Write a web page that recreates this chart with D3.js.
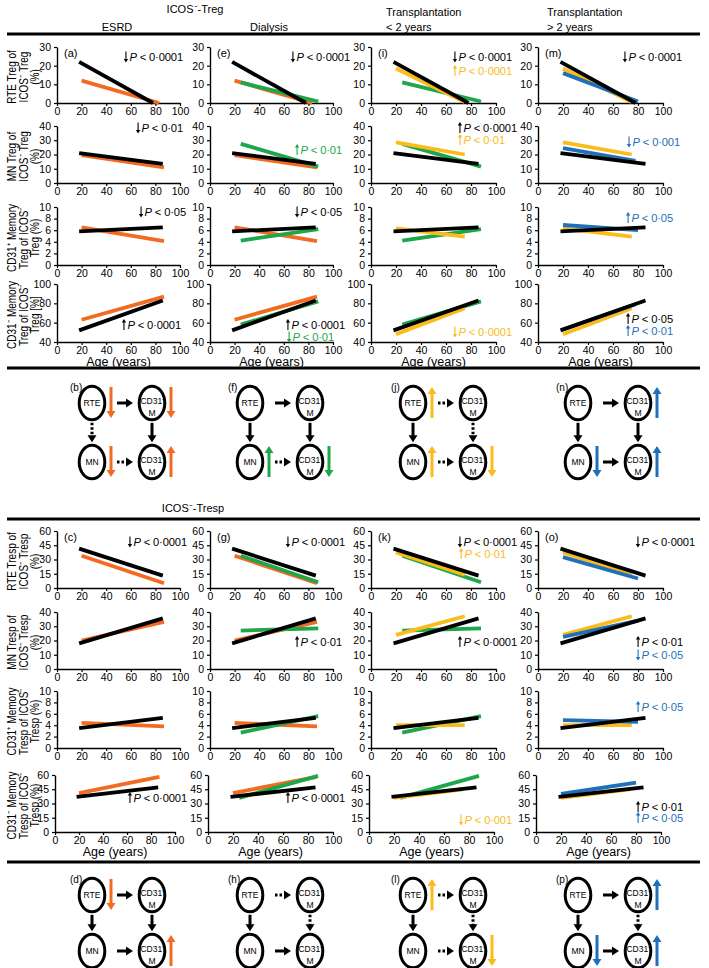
<!DOCTYPE html>
<html><head><meta charset="utf-8">
<script src="https://cdn.jsdelivr.net/npm/d3@7"></script>
<style>body{margin:0;background:#fff}svg{display:block;font-family:"Liberation Sans",Arial,sans-serif}</style>
</head><body><svg id="c" width="709" height="968"></svg>
<script>
// ---------------- DATA ----------------
const xTicks = [0, 20, 40, 60, 80, 100];
const groupKeys = ["ctrl", "esrd", "dial", "txe", "txl"];
const groupColors = {ctrl: "#000000", esrd: "#f26b21", dial: "#1ea64a", txe: "#fbbb1a", txl: "#1f70b8"};
const columnGroups = [["esrd"], ["esrd", "dial"], ["dial", "txe"], ["txe", "txl"]];
const columnHeaders = [["ESRD"], ["Dialysis"], ["Transplantation", "< 2 years"], ["Transplantation", "> 2 years"]];

// regression lines: [ageStart, valueStart, ageEnd, valueEnd]
const tregRTE  = {ctrl: [18, 22, 78, 0],   esrd: [20, 12, 83, 0],   dial: [25, 11, 88, 0.8], txe: [20, 18.5, 75, 0.5], txl: [20, 16, 80, 0.8]};
const tregMN   = {ctrl: [18, 21, 86, 13.5], esrd: [20, 19.5, 87, 11], dial: [25, 27.5, 88, 11.5], txe: [20, 28.5, 75, 20], txl: [20, 24.5, 78, 15.5]};
const tregCD31p = {ctrl: [18, 5.8, 86, 6.5], esrd: [20, 6.5, 87, 4.1], dial: [25, 4.2, 88, 6.2], txe: [20, 6.3, 75, 4.9], txl: [20, 6.9, 80, 6.0]};
const tregCD31n = {ctrl: [18, 52, 86, 83], esrd: [20, 63, 87, 87], dial: [25, 58, 88, 82], txe: [20, 48, 75, 75], txl: [20, 53, 78, 79]};
const trespRTE  = {ctrl: [18, 41.5, 86, 13], esrd: [20, 34, 87, 5], dial: [25, 34, 88, 6], txe: [20, 37.5, 75, 14], txl: [20, 32.5, 80, 10]};
const trespMN   = {ctrl: [18, 18, 86, 35.5], esrd: [20, 20, 87, 33], dial: [25, 27, 88, 28.5], txe: [20, 24, 75, 37], txl: [20, 22.5, 80, 34]};
const trespCD31p = {ctrl: [18, 3.5, 86, 5.3], esrd: [20, 4.4, 87, 3.8], dial: [25, 2.7, 88, 5.6], txe: [20, 4.0, 75, 4.0], txl: [20, 4.9, 80, 4.6]};
const trespCD31n = {ctrl: [18, 37, 86, 47], esrd: [20, 41, 87, 58], dial: [25, 36, 88, 59], txe: [20, 36, 75, 45], txl: [20, 40, 80, 52]};

const tregYTicks = [[0, 10, 20, 30], [0, 10, 20, 30, 40], [0, 2, 4, 6, 8, 10], [40, 60, 80, 100]];
const trespYTicks = [[0, 15, 30, 45, 60], [0, 10, 20, 30, 40], [0, 2, 4, 6, 8, 10], [0, 15, 30, 45, 60]];
const tregYLabels = [["RTE Treg of", "ICOS⁻ Treg", "(%)"], ["MN Treg of", "ICOS⁻ Treg", "(%)"],
  ["CD31⁺ Memory", "Treg of ICOS⁻", "Treg (%)"], ["CD31⁻ Memory", "Treg of ICOS⁻", "Treg [%]"]];
const trespYLabels = [["RTE Tresp of", "ICOS⁻ Tresp", "(%)"], ["MN Tresp of", "ICOS⁻ Tresp", "(%)"],
  ["CD31⁺ Memory", "Tresp of ICOS⁻", "Tresp (%)"], ["CD31⁻ Memory", "Tresp of ICOS⁻", "Tresp (%)"]];
const tregPanelLetters = ["(a)", "(e)", "(i)", "(m)"];
const trespPanelLetters = ["(c)", "(g)", "(k)", "(o)"];

// P-value annotations: [row, col, direction, p, group]
const tregPvals = [
  [0, 0, "down", "0·0001", "ctrl"], [0, 1, "down", "0·0001", "ctrl"], [0, 2, "down", "0·0001", "ctrl"],
  [0, 2, "up", "0·0001", "txe"], [0, 3, "down", "0·0001", "ctrl"],
  [1, 0, "down", "0·01", "ctrl"], [1, 1, "up", "0·01", "dial"], [1, 2, "up", "0·0001", "ctrl"],
  [1, 2, "up", "0·01", "txe"], [1, 3, "down", "0·001", "txl"],
  [2, 0, "down", "0·05", "ctrl"], [2, 1, "down", "0·05", "ctrl"], [2, 3, "up", "0·05", "txl"],
  [3, 0, "up", "0·0001", "ctrl"], [3, 1, "up", "0·0001", "ctrl"], [3, 1, "down", "0·01", "dial"],
  [3, 2, "down", "0·0001", "txe"], [3, 3, "up", "0·05", "ctrl"], [3, 3, "up", "0·01", "txl"]
];
const trespPvals = [
  [0, 0, "down", "0·0001", "ctrl"], [0, 1, "down", "0·0001", "ctrl"], [0, 2, "down", "0·0001", "ctrl"],
  [0, 2, "up", "0·01", "txe"], [0, 3, "down", "0·0001", "ctrl"],
  [1, 1, "up", "0·01", "ctrl"], [1, 2, "up", "0·0001", "ctrl"], [1, 3, "up", "0·01", "ctrl"],
  [1, 3, "down", "0·05", "txl"],
  [2, 3, "up", "0·05", "txl"],
  [3, 0, "up", "0·0001", "ctrl"], [3, 1, "up", "0·0001", "ctrl"], [3, 2, "down", "0·001", "txe"],
  [3, 3, "up", "0·01", "ctrl"], [3, 3, "up", "0·05", "txl"]
];

// diagrams: arrows h1 (RTE->CD31+), v1 (RTE->MN), v2 (CD31+->CD31-), h2 (MN->CD31-); marks: rte, cp, mn, cn
const tregDiagrams = [
  {label: "(b)", h1: "solid", v1: "dot", v2: "solid", h2: "dot", color: "esrd", marks: {rte: "down", cp: "down", mn: "down", cn: "up"}},
  {label: "(f)", h1: "solid", v1: "solid", v2: "solid", h2: "dot", color: "dial", marks: {mn: "up", cn: "down"}},
  {label: "(j)", h1: "dot", v1: "solid", v2: "dot", h2: "dot", color: "txe", marks: {rte: "up", mn: "up", cn: "down"}},
  {label: "(n)", h1: "solid", v1: "solid", v2: "solid", h2: "solid", color: "txl", marks: {cp: "up", mn: "down", cn: "up"}}
];
const trespDiagrams = [
  {label: "(d)", h1: "solid", v1: "solid", v2: "solid", h2: "solid", color: "esrd", marks: {rte: "down", cn: "up"}},
  {label: "(h)", h1: "dot", v1: "solid", v2: "dot", h2: "solid", color: "dial", marks: {}},
  {label: "(l)", h1: "dot", v1: "solid", v2: "dot", h2: "dot", color: "txe", marks: {rte: "up", cn: "down"}},
  {label: "(p)", h1: "solid", v1: "solid", v2: "dot", h2: "solid", color: "txl", marks: {cp: "up", mn: "down", cn: "up"}}
];

// ---------------- LAYOUT ----------------
const svg = d3.select("#c");
const FONT = '"Liberation Sans",Arial,sans-serif';
const colX = [[57, 180], [210, 333], [371, 496], [538, 663]];
const tregRowY = [[47, 103], [126, 183], [207, 265], [284, 342]];
const trespRowY = [[531, 588], [612, 669], [691, 748], [775, 832]];
const diagRTEx = [92, 250, 413, 578];
// right edge x and centre y of each annotation (parallel to the P-value lists)
const tregPvalPos = [[183, 57], [350, 57], [512, 57], [512, 71], [682, 57],
  [183, 128], [342, 150], [517, 128], [505, 140], [680, 142],
  [186, 212], [342, 212], [673, 218],
  [181, 325], [345, 325], [334, 337], [512, 332], [673, 319], [673, 331]];
const trespPvalPos = [[187, 542], [345, 542], [517, 542], [506, 554], [695, 542],
  [342, 642], [517, 642], [683, 642], [683, 655],
  [683, 707],
  [187, 798], [345, 798], [512, 820], [683, 807], [683, 818]];

function hline(y) {
  svg.append("line").attr("x1", 7).attr("x2", 700).attr("y1", y).attr("y2", y)
    .attr("stroke", "#000").attr("stroke-width", 3);
}

function pText(xr, yc, dir, p, color) {
  const t = svg.append("text").attr("x", xr).attr("y", yc + 4).attr("text-anchor", "end")
    .attr("font-size", 11.2).attr("fill", color).attr("letter-spacing", -0.15);
  t.append("tspan").attr("font-style", "italic").text("P");
  t.append("tspan").text(" < " + p);
  const w = t.node().getComputedTextLength();
  const ax = xr - w - 3.5;
  const top = yc - 5.5, bot = yc + 5;
  const g = svg.append("g").attr("fill", color).attr("stroke", color);
  if (dir === "down") {
    g.append("line").attr("x1", ax).attr("x2", ax).attr("y1", top).attr("y2", bot - 2).attr("stroke-width", 1.1);
    g.append("path").attr("d", `M${ax - 2.2},${bot - 3}L${ax + 2.2},${bot - 3}L${ax},${bot + 0.5}Z`).attr("stroke", "none");
  } else {
    g.append("line").attr("x1", ax).attr("x2", ax).attr("y1", top + 2).attr("y2", bot).attr("stroke-width", 1.1);
    g.append("path").attr("d", `M${ax - 2.2},${top + 3}L${ax + 2.2},${top + 3}L${ax},${top - 0.5}Z`).attr("stroke", "none");
  }
}

function drawSection(rowY, datasets, yTicksAll, yLabels, letters, pvals, pvalPos, lastRowX) {
  datasets.forEach((data, r) => {
    const [yTop, yBot] = rowY[r];
    const yt = yTicksAll[r];
    const ymid = (yTop + yBot) / 2 + 2;
    const lx = [12, 23.5, 35];
    yLabels[r].forEach((s, i) => {
      svg.append("text").attr("transform", `translate(${lx[i]},${ymid}) rotate(-90) scale(0.82,1)`)
        .attr("text-anchor", "middle").attr("dy", "0.35em").attr("font-size", 12.2).text(s);
    });
    for (let c = 0; c < 4; c++) {
      const xr = (lastRowX && r === 3) ? lastRowX[c] : colX[c];
      const x = d3.scaleLinear().domain([0, 100]).range(xr);
      const y = d3.scaleLinear().domain([yt[0], yt[yt.length - 1]]).range([yBot, yTop]);
      const g = svg.append("g");
      const ax = g.append("g").attr("transform", `translate(0,${yBot})`)
        .call(d3.axisBottom(x).tickValues(xTicks).tickSize(3).tickPadding(2).tickSizeOuter(0));
      const ay = g.append("g").attr("transform", `translate(${xr[0]},0)`)
        .call(d3.axisLeft(y).tickValues(yt).tickSize(3).tickPadding(3).tickSizeOuter(0));
      [ax, ay].forEach(a => {
        a.select(".domain").attr("stroke-width", 1.4);
        a.selectAll(".tick line").attr("stroke-width", 1.2);
        a.selectAll("text").attr("font-size", 10.5).attr("font-family", FONT).attr("fill", "#000");
      });
      const keys = columnGroups[c].concat(["ctrl"]);
      keys.forEach(k => {
        const d = data[k];
        g.append("line").attr("x1", x(d[0])).attr("y1", y(d[1])).attr("x2", x(d[2])).attr("y2", y(d[3]))
          .attr("stroke", groupColors[k]).attr("stroke-width", 3.8);
      });
      if (r === 0) {
        g.append("text").attr("x", xr[0] + 7).attr("y", yTop + 10).attr("font-size", 11).text(letters[c]);
      }
      if (r === 3) {
        g.append("text").attr("x", (xr[0] + xr[1]) / 2).attr("y", yBot + 24).attr("text-anchor", "middle")
          .attr("font-size", 12.5).text("Age (years)");
      }
    }
  });
  pvals.forEach((p, i) => {
    const pos = pvalPos[i];
    pText(pos[0], pos[1], p[2], p[3], groupColors[p[4]]);
  });
}

function arrowLine(x1, y1, x2, y2, style, color, sw) {
  const g = svg.append("g");
  const len = Math.hypot(x2 - x1, y2 - y1), ux = (x2 - x1) / len, uy = (y2 - y1) / len;
  const hl = 7, hw = 4.5;
  const bx = x2 - ux * hl, by = y2 - uy * hl;
  g.append("line").attr("x1", x1).attr("y1", y1).attr("x2", bx + ux).attr("y2", by + uy)
    .attr("stroke", color).attr("stroke-width", sw)
    .attr("stroke-dasharray", style === "dot" ? "2.5,2" : null);
  g.append("path").attr("d", `M${x2},${y2}L${bx - uy * hw},${by + ux * hw}L${bx + uy * hw},${by - ux * hw}Z`)
    .attr("fill", color);
}

function cdText(x, y, sup) {
  const t = svg.append("text").attr("x", x).attr("y", y).attr("text-anchor", "middle").attr("font-size", 8.5);
  t.append("tspan").text("CD31");
  t.append("tspan").attr("font-size", 6).attr("dy", -3.5).text(sup);
}

function drawDiagrams(diags, yTopC, yBotC) {
  diags.forEach((d, i) => {
    const x1 = diagRTEx[i], x2 = x1 + 60;
    const rx = 12.8, ry = 16.8;
    svg.append("text").attr("x", x1 - 22).attr("y", yTopC - 12).attr("font-size", 10).text(d.label);
    const nodes = [
      {k: "rte", x: x1, y: yTopC, t: "RTE"}, {k: "cp", x: x2, y: yTopC, sup: "+"},
      {k: "mn", x: x1, y: yBotC, t: "MN"}, {k: "cn", x: x2, y: yBotC, sup: "−"}
    ];
    nodes.forEach(n => {
      svg.append("ellipse").attr("cx", n.x).attr("cy", n.y).attr("rx", rx).attr("ry", ry)
        .attr("fill", "#fff").attr("stroke", "#000").attr("stroke-width", 3);
      if (n.t) {
        svg.append("text").attr("x", n.x).attr("y", n.y + 3).attr("text-anchor", "middle")
          .attr("font-size", 8.5).text(n.t);
      } else {
        cdText(n.x + 1, n.y + 1, n.sup);
        svg.append("text").attr("x", n.x).attr("y", n.y + 13).attr("text-anchor", "middle")
          .attr("font-size", 8.5).text("M");
      }
      const m = d.marks[n.k];
      if (m) {
        const ax = n.x + 19, t = n.y - 16, b = n.y + 15;
        if (m === "down") arrowLine(ax, t, ax, b, "solid", groupColors[d.color], 3);
        else arrowLine(ax, b, ax, t, "solid", groupColors[d.color], 3);
      }
    });
    arrowLine(x1 + 25, yTopC, x2 - 19, yTopC, d.h1, "#000", 3);
    arrowLine(x1 + 25, yBotC, x2 - 19, yBotC, d.h2, "#000", 3);
    arrowLine(x1, yTopC + ry + 3, x1, yBotC - ry - 3, d.v1, "#000", 3);
    arrowLine(x2, yTopC + ry + 3, x2, yBotC - ry - 3, d.v2, "#000", 3);
  });
}

// ---------------- DRAW ----------------
svg.append("text").attr("x", 195).attr("y", 13).attr("text-anchor", "middle").attr("font-size", 11).text("ICOS⁻-Treg");
const headerX = [117, 269];
columnHeaders.forEach((h, i) => {
  if (h.length === 1) {
    svg.append("text").attr("x", headerX[i]).attr("y", 31).attr("text-anchor", "middle").attr("font-size", 11).text(h[0]);
  } else {
    const lx = i === 2 ? 386 : 547;
    svg.append("text").attr("x", lx).attr("y", 16).attr("font-size", 11).text(h[0]);
    svg.append("text").attr("x", lx).attr("y", 31).attr("font-size", 11).text(h[1]);
  }
});
hline(34);
drawSection(tregRowY, [tregRTE, tregMN, tregCD31p, tregCD31n], tregYTicks, tregYLabels, tregPanelLetters, tregPvals, tregPvalPos, null);
hline(368);
drawDiagrams(tregDiagrams, 403, 462);

svg.append("text").attr("x", 193).attr("y", 512).attr("text-anchor", "middle").attr("font-size", 11).text("ICOS⁻-Tresp");
hline(519);
drawSection(trespRowY, [trespRTE, trespMN, trespCD31p, trespCD31n], trespYTicks, trespYLabels, trespPanelLetters, trespPvals, trespPvalPos,
  [[55, 175], [208, 333], [369, 494], [536, 661]]);
hline(862);
drawDiagrams(trespDiagrams, 895, 951);
</script></body></html>
